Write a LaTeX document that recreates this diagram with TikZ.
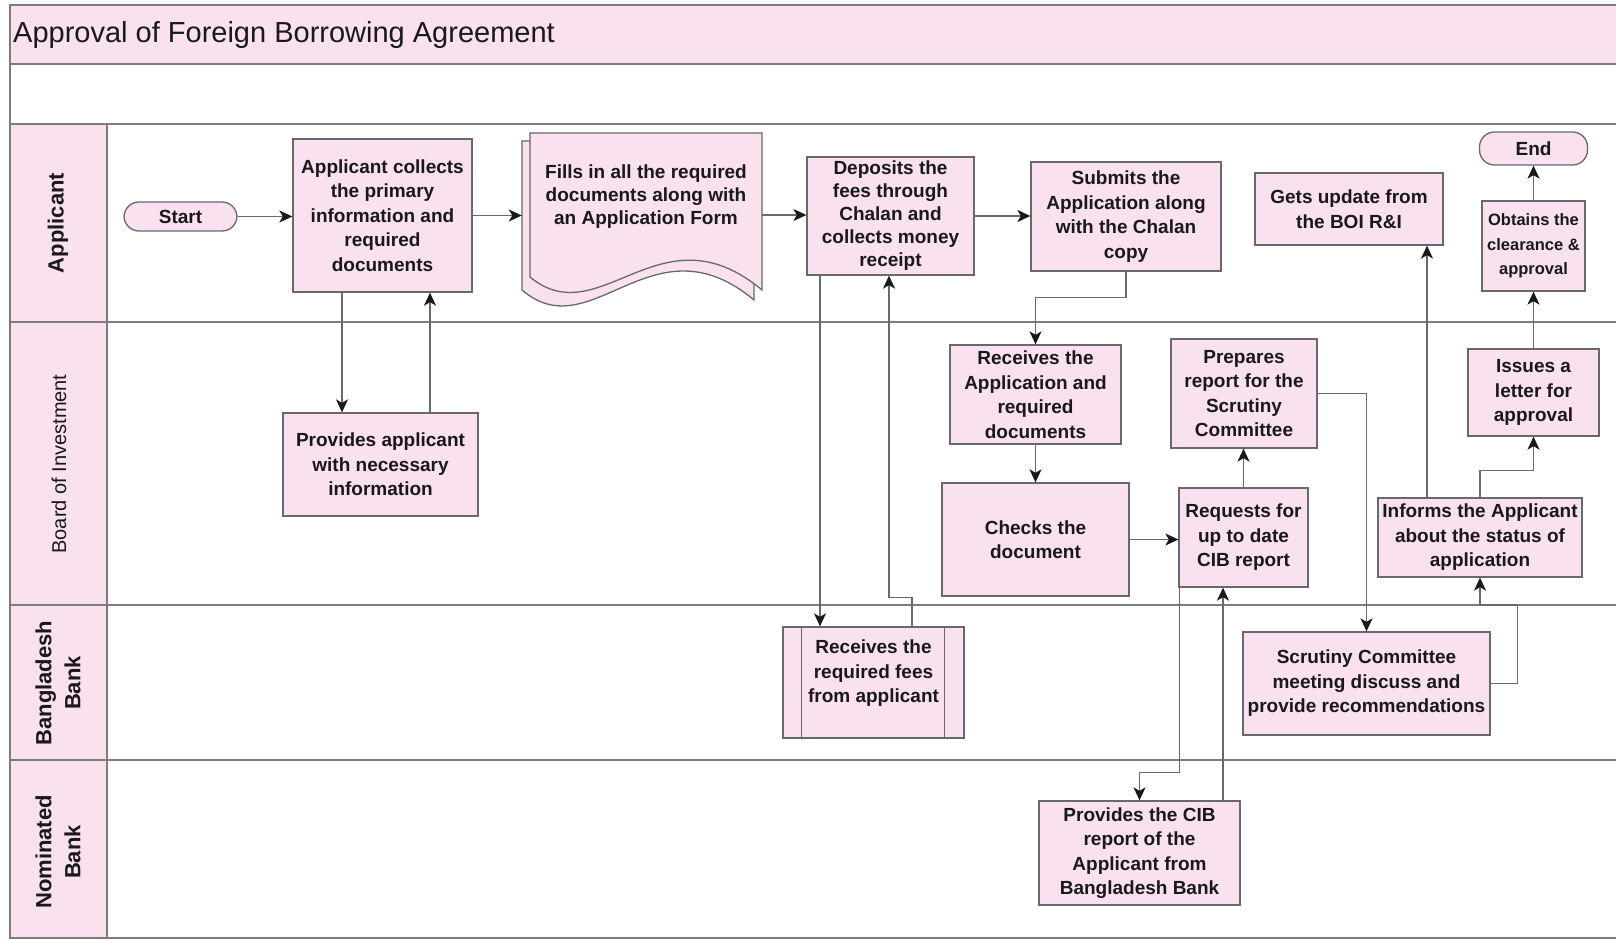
\documentclass[tikz,border=0pt]{standalone}
\usepackage{fontspec}
\setmainfont{Liberation Sans}
\usetikzlibrary{arrows.meta}
\definecolor{pinkfill}{RGB}{249,225,239}
\definecolor{boxline}{RGB}{105,105,105}
\definecolor{laneline}{RGB}{125,125,125}
\definecolor{txt}{RGB}{25,25,25}
\tikzset{
  box/.style={draw=boxline, fill=pinkfill, line width=1.3pt, inner sep=0pt, align=center, text=txt,
              font=\bfseries\fontsize{19}{24.5}\selectfont},
  term/.style={box, rounded corners=15pt},
  conn/.style={draw=boxline, line width=1.4pt, -{Stealth[length=13pt,width=12pt,inset=3.5pt,color=txt]}},
  lanelab/.style={rotate=90, align=center, text=txt, inner sep=0pt, font=\bfseries\fontsize{22}{29}\selectfont},
  docshape/.style={draw=boxline, fill=pinkfill, line width=1.3pt},
  lanestroke/.style={draw=laneline, line width=1.3pt}
}
\begin{document}
\begin{tikzpicture}[x=1pt,y=-1pt]
\useasboundingbox (0,0) rectangle (1616,941);
\fill[white] (0,0) rectangle (1616,941);
% frame and lanes
\fill[pinkfill] (10,5) rectangle (1616,64);
\fill[pinkfill] (10,124) rectangle (107,938);
\draw[lanestroke] (1616,5) -- (10,5) -- (10,938) -- (1616,938);
\foreach \yy in {64,124,322,605,760} \draw[lanestroke] (10,\yy) -- (1616,\yy);
\draw[lanestroke] (107,124) -- (107,938);

\node[anchor=west, text=txt, inner sep=0pt, font=\fontsize{29}{34}\selectfont] (title) at (13,35) {Approval of Foreign Borrowing Agreement};

\node[lanelab] (lA) at (58,223) {Applicant};
\node[lanelab, font=\fontsize{20}{24}\selectfont] (lB) at (59,464) {Board of Investment};
\node[lanelab] (lC) at (58,683) {Bangladesh\\Bank};
\node[lanelab] (lD) at (58,852) {Nominated\\Bank};

% applicant lane
\node[term, minimum width=113pt, minimum height=29pt] (start) at (180.5,216.5) {Start};
\node[box, minimum width=179pt, minimum height=153pt] (col) at (382.5,215.5) {Applicant collects\\the primary\\information and\\required\\documents};

\draw[docshape] (522,141) -- (754,141) -- (754,300) .. controls (652,215) and (592,350) .. (522,290) -- cycle;
\draw[docshape] (530,133) -- (762,133) -- (762,290) .. controls (660,205) and (600,335) .. (530,277) -- cycle;
\node[minimum width=240pt, minimum height=150pt, inner sep=0pt] (doc) at (642,215) {};
\node[align=center, text=txt, inner sep=0pt, font=\bfseries\fontsize{19}{23}\selectfont] (docT) at (646,197) {Fills in all the required\\documents along with\\an Application Form};

\node[box, minimum width=167pt, minimum height=118pt, font=\bfseries\fontsize{19}{23}\selectfont] (dep) at (890.5,216) {Deposits the\\fees through\\Chalan and\\collects money\\receipt};
\node[box, minimum width=190pt, minimum height=109pt] (sub) at (1126,216.5) {Submits the\\Application along\\with the Chalan\\copy};
\node[box, minimum width=188pt, minimum height=72pt] (gets) at (1349,209) {Gets update from\\the BOI R\&I};
\node[term, minimum width=108pt, minimum height=33pt] (end) at (1533.5,148.5) {End};
\node[box, minimum width=103pt, minimum height=90pt, font=\bfseries\fontsize{16.5}{24.5}\selectfont] (obt) at (1533.5,246) {Obtains the\\clearance \&\\approval};

% BOI lane
\node[box, minimum width=195pt, minimum height=103pt] (pap) at (380.5,464.5) {Provides applicant\\with necessary\\information};
\node[box, minimum width=171pt, minimum height=99pt] (rec) at (1035.5,394.5) {Receives the\\Application and\\required\\documents};
\node[box, minimum width=187pt, minimum height=113pt] (chk) at (1035.5,539.5) {Checks the\\document};
\node[box, minimum width=146pt, minimum height=109pt] (prep) at (1244,393.5) {Prepares\\report for the\\Scrutiny\\Committee};
\node[box, minimum width=129pt, minimum height=99pt] (req) at (1243.5,537.5) {Requests for\\up to date\\CIB report};
\node[box, minimum width=131pt, minimum height=87pt] (iss) at (1533.5,392.5) {Issues a\\letter for\\approval};
\node[box, minimum width=204pt, minimum height=79pt] (inf) at (1480,537.5) {Informs the Applicant\\about the status of\\application};

% Bangladesh Bank lane
\node[box, minimum width=181pt, minimum height=111pt] (fee) at (873.5,682.5) {};
\draw[boxline, line width=1.3pt] ([xshift=19pt]fee.north west) -- ([xshift=19pt]fee.south west);
\draw[boxline, line width=1.3pt] ([xshift=-20pt]fee.north east) -- ([xshift=-20pt]fee.south east);
\node[align=center, text=txt, inner sep=0pt, font=\bfseries\fontsize{19}{24.5}\selectfont] (feeT) at ([yshift=9pt]fee.center) {Receives the\\required fees\\from applicant};
\node[box, minimum width=247pt, minimum height=103pt] (scr) at (1366.5,683.5) {Scrutiny Committee\\meeting discuss and\\provide recommendations};

% Nominated Bank lane
\node[box, minimum width=201pt, minimum height=104pt] (cib) at (1139.5,853) {Provides the CIB\\report of the\\Applicant from\\Bangladesh Bank};

% helper coordinates
\coordinate (colA) at ([xshift=-40.5pt]col.south);
\coordinate (papA) at ([xshift=49.5pt]pap.north);
\coordinate (depA) at ([xshift=-70.5pt]dep.south);
\coordinate (depB) at ([xshift=-1.5pt]dep.south);
\coordinate (feeA) at ([xshift=38.5pt]fee.north);
\coordinate (reqA) at ([xshift=1pt]req.south west);
\coordinate (cibA) at ([xshift=83.5pt]cib.north);
\coordinate (infA) at ([xshift=-53pt]inf.north);

% connectors
\draw[conn] (start.east) -- (start.east -| col.west);
\draw[conn] (col.east) -- (col.east -| doc.west);
\draw[conn] (doc.east) -- (doc.east -| dep.west);
\draw[conn] (dep.east) -- (dep.east -| sub.west);
\draw[conn] (sub.south) -- ++(0,26) -| (rec.north);
\draw[conn] (rec.south) -- (chk.north);
\draw[conn] (chk.east) -- (chk.east -| req.west);
\draw[conn] (req.north) -- (req.north |- prep.south);
\draw[conn] (prep.east) -| (scr.north);
\draw[conn] (scr.east) -- ++(27,0) -- ++(0,-78.5) -| (inf.south);
\draw[conn] (infA) -- (infA |- gets.south);
\draw[conn] (inf.north) -- ++(0,-27) -| (iss.south);
\draw[conn] (iss.north) -- (obt.south);
\draw[conn] (obt.north) -- (end.south);
\draw[conn] (colA) -- (colA |- pap.north);
\draw[conn] (papA) -- (papA |- col.south);
\draw[conn] (depA) -- (depA |- fee.north);
\draw[conn] (feeA) -- ++(0,-29) -| (depB);
\draw[conn] (reqA) -- ++(0,185) -| (cib.north);
\draw[conn] (cibA) -- (cibA |- req.south);
\end{tikzpicture}
\end{document}
